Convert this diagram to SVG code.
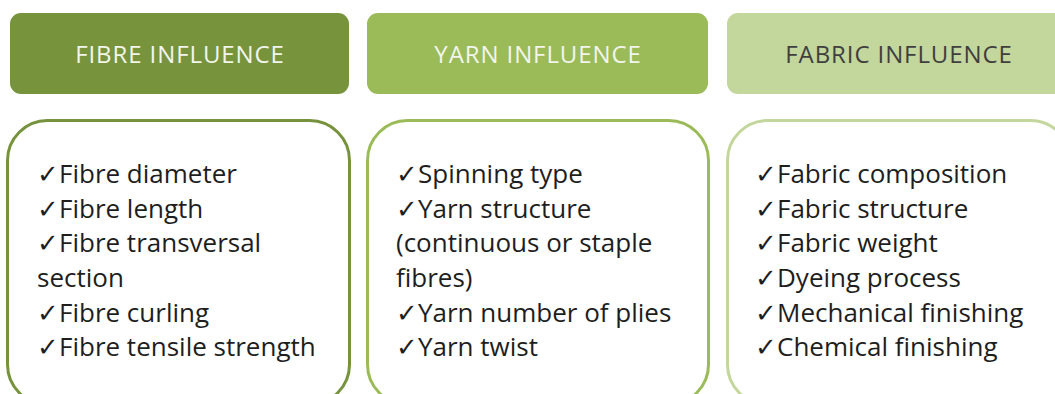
<svg xmlns="http://www.w3.org/2000/svg" width="1055" height="394" viewBox="0 0 1055 394">
<style>
.hd{font-family:"Open Sans","Liberation Sans",sans-serif;font-size:24px;letter-spacing:0.9px;text-anchor:middle}
.bd{font-family:"Open Sans","Liberation Sans",sans-serif;font-size:26px;fill:#1e1e1e}
.panel{fill:#fff;stroke-width:3}
</style>
<rect width="1055" height="394" fill="#fff"/>
<g id="fibre-head">
<rect x="10" y="13" width="339" height="81" rx="11" fill="#77933C"/>
<text class="hd" x="180" y="63" fill="#F2F5EC">FIBRE INFLUENCE</text>
</g>
<g id="yarn-head">
<rect x="367" y="13" width="341" height="81" rx="11" fill="#9BBB59"/>
<text class="hd" x="538" y="63" fill="#F2F5EC">YARN INFLUENCE</text>
</g>
<g id="fabric-head">
<rect x="727" y="13" width="343" height="81" rx="11" fill="#C3D69B"/>
<text class="hd" x="899" y="63" fill="#3F3F3F">FABRIC INFLUENCE</text>
</g>
<g id="fibre-list">
<rect class="panel" x="7.5" y="120.5" width="342" height="284" rx="40" stroke="#76923C"/>
<text class="bd" x="37" y="183">✓Fibre diameter</text>
<text class="bd" x="37" y="218">✓Fibre length</text>
<text class="bd" x="37" y="252">✓Fibre transversal</text>
<text class="bd" x="37" y="287">section</text>
<text class="bd" x="37" y="322">✓Fibre curling</text>
<text class="bd" x="37" y="356">✓Fibre tensile strength</text>
</g>
<g id="yarn-list">
<rect class="panel" x="367.5" y="120.5" width="341" height="284" rx="40" stroke="#9BBB59"/>
<text class="bd" x="396" y="183">✓Spinning type</text>
<text class="bd" x="396" y="218">✓Yarn structure</text>
<text class="bd" x="396" y="252">(continuous or staple</text>
<text class="bd" x="396" y="287">fibres)</text>
<text class="bd" x="396" y="322">✓Yarn number of plies</text>
<text class="bd" x="396" y="356">✓Yarn twist</text>
</g>
<g id="fabric-list">
<rect class="panel" x="727.5" y="120.5" width="343" height="284" rx="40" stroke="#C3D69B"/>
<text class="bd" x="755" y="183">✓Fabric composition</text>
<text class="bd" x="755" y="218">✓Fabric structure</text>
<text class="bd" x="755" y="252">✓Fabric weight</text>
<text class="bd" x="755" y="287">✓Dyeing process</text>
<text class="bd" x="755" y="322">✓Mechanical finishing</text>
<text class="bd" x="755" y="356">✓Chemical finishing</text>
</g>
<g id="connectors"></g>
</svg>
